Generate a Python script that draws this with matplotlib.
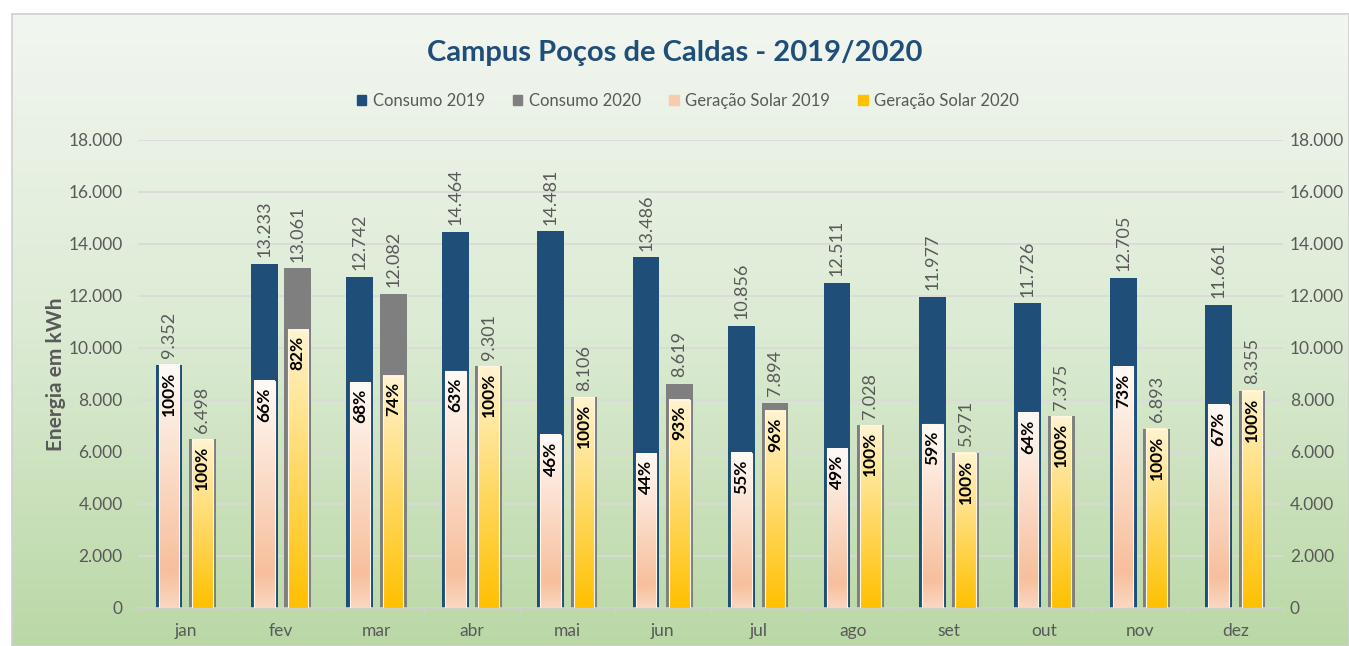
import numpy as np
import matplotlib.pyplot as plt
from matplotlib.colors import LinearSegmentedColormap
from matplotlib.ticker import FuncFormatter
from matplotlib.patches import Rectangle, Patch

plt.rcParams['font.family'] = ['Lato', 'DejaVu Sans']

meses = ['jan', 'fev', 'mar', 'abr', 'mai', 'jun', 'jul', 'ago', 'set', 'out', 'nov', 'dez']
consumo_2019 = [9352, 13233, 12742, 14464, 14481, 13486, 10856, 12511, 11977, 11726, 12705, 11661]
consumo_2020 = [6498, 13061, 12082, 9301, 8106, 8619, 7894, 7028, 5971, 7375, 6893, 8355]
solar_2019 = [9352, 8734, 8665, 9112, 6661, 5934, 5971, 6130, 7066, 7505, 9275, 7813]
solar_2020 = [6498, 10710, 8941, 9301, 8106, 8016, 7578, 7028, 5971, 7375, 6893, 8355]


def fmt_br(v, pos=None):
    return f'{int(v):,}'.replace(',', '.')


W, H = 1349, 646
fig = plt.figure(figsize=(W / 100, H / 100), dpi=100)

# fundo em degrade (moldura do grafico)
bg = fig.add_axes([12 / W, 0, 1 - 12 / W, 1 - 14 / H], zorder=-10)
bg_cmap = LinearSegmentedColormap.from_list('bg', ['#f2f6f0', '#dcebd4', '#bad8a6'])
bg.imshow(np.linspace(0, 1, 256).reshape(-1, 1), cmap=bg_cmap, aspect='auto',
          extent=(0, 1, 0, 1), origin='upper')
bg.set_xlim(0, 1)
bg.set_ylim(0, 1)
bg.set_xticks([])
bg.set_yticks([])
for s in bg.spines.values():
    s.set_color('#d0d0d0')
    s.set_linewidth(1.2)

ax = fig.add_axes([138 / W, 1 - 608 / H, (1283 - 138) / W, (608 - 140) / H])
ax.patch.set_alpha(0)

x = np.arange(len(meses))
off = 0.175
wc = 0.28
ws = 0.215

ax.bar(x - off, consumo_2019, wc, color='#1f4e79', zorder=2)
ax.bar(x + off, consumo_2020, wc, color='#7f7f7f', zorder=2)

cm19 = LinearSegmentedColormap.from_list('s19', [(0, '#fad7c2'), (0.15, '#f7bf9c'), (1, '#fffaf7')])
cm20 = LinearSegmentedColormap.from_list('s20', [(0, '#ffc000'), (1, '#fff3cf')])
grad = np.linspace(0, 1, 256).reshape(-1, 1)

for xi, c, s, cm in [(x - off, consumo_2019, solar_2019, cm19),
                     (x + off, consumo_2020, solar_2020, cm20)]:
    for xc, cv, sv in zip(xi, c, s):
        h = min(sv, cv)
        ax.imshow(grad, cmap=cm, aspect='auto', origin='lower',
                  extent=(xc - ws / 2, xc + ws / 2, 0, h), zorder=3)
        ax.add_patch(Rectangle((xc - ws / 2, 0), ws, h, fill=False,
                               edgecolor='#fff6e6', linewidth=0.8, zorder=4))
        pct = min(100, round(sv / cv * 100))
        ax.text(xc, h - 250, f'{pct}%', rotation=90, ha='center', va='top',
                fontsize=12.5, fontweight='bold', color='black', zorder=5)
        ax.text(xc, cv + 250, fmt_br(cv), rotation=90, ha='center', va='bottom',
                fontsize=13, color='#595959', zorder=5)

ax.set_xlim(-0.5, 11.5)
ax.set_ylim(0, 18000)
ax.set_yticks(np.arange(0, 18001, 2000))
ax.yaxis.set_major_formatter(FuncFormatter(fmt_br))
ax.tick_params(axis='y', length=0, labelsize=12.5, labelcolor='#595959', pad=11)
ax.set_xticks(x)
ax.set_xticklabels(meses)
ax.tick_params(axis='x', length=0, labelsize=12.5, labelcolor='#595959', pad=11)
ax.set_xticks(np.arange(-0.5, 12, 1), minor=True)
ax.tick_params(axis='x', which='minor', length=4, color='#d0d0d0')
ax.grid(axis='y', color='#d9d9d9', linewidth=1.2, zorder=0)
ax.set_axisbelow(True)
for k in ['top', 'left', 'right']:
    ax.spines[k].set_visible(False)
ax.spines['bottom'].set_color('#d0d0d0')
ax.spines['bottom'].set_linewidth(1.2)

# eixo secundario (mesma escala)
ax2 = ax.twinx()
ax2.set_ylim(ax.get_ylim())
ax2.set_yticks(np.arange(0, 18001, 2000))
ax2.yaxis.set_major_formatter(FuncFormatter(fmt_br))
ax2.tick_params(axis='y', length=0, labelsize=12.5, labelcolor='#595959', pad=5)
for s in ax2.spines.values():
    s.set_visible(False)

ax.set_ylabel('Energia em kWh', fontsize=15, fontweight='bold', color='#595959', labelpad=2)

fig.text(0.5, 1 - 53 / H, 'Campus Poços de Caldas - 2019/2020', ha='center', va='center',
         fontsize=21, fontweight='bold', color='#1f4e79')

handles = [Patch(color='#1f4e79'), Patch(color='#7f7f7f'),
           Patch(color='#f8cbad'), Patch(color='#ffc000')]
labels = ['Consumo 2019', 'Consumo 2020', 'Geração Solar 2019', 'Geração Solar 2020']
fig.legend(handles, labels, loc='center', bbox_to_anchor=(0.51, 1 - 101 / H), ncol=4,
           frameon=False, fontsize=12, labelcolor='#595959', handlelength=0.55,
           handleheight=0.55, handletextpad=0.4, columnspacing=1.7)

fig.savefig('out.png', dpi=100)
